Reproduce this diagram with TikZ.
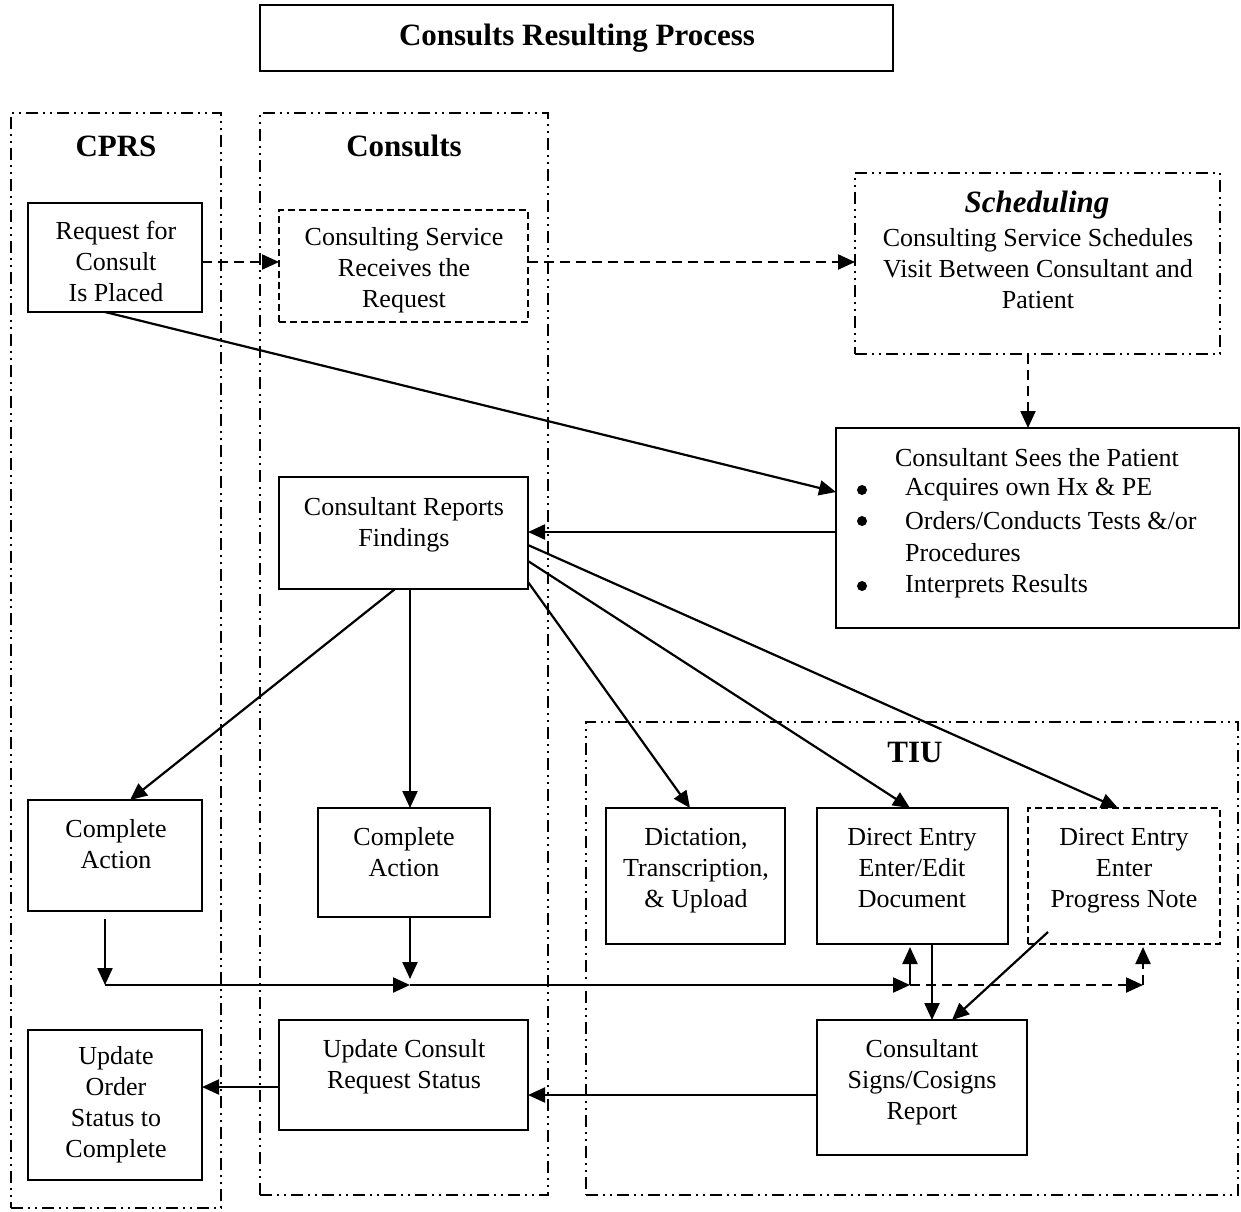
\documentclass[tikz,border=0pt]{standalone}
\usepackage{fontspec}
\setmainfont{Liberation Serif}
\usetikzlibrary{arrows.meta,calc}
\begin{document}
\begin{tikzpicture}[x=1pt,y=-1pt,
 box/.style={draw,line width=1.6pt,inner sep=0pt,outer sep=0pt,anchor=north west},
 dbox/.style={box,dash pattern=on 7pt off 4pt},
 lane/.style={draw,line width=1.5pt,inner sep=0pt,outer sep=0pt,anchor=north west,dash pattern=on 12pt off 5pt on 2pt off 5pt on 2pt off 5pt},
 txt/.style={align=center,font=\fontsize{26}{31}\selectfont,inner sep=0pt},
 head/.style={font=\fontsize{31}{36}\selectfont\bfseries,inner sep=0pt},
 bul/.style={circle,fill,inner sep=0pt,minimum size=10pt},
 arr/.style={line width=2.2pt,-{Triangle[length=17pt,width=15pt]}},
 dsh/.style={dash pattern=on 10pt off 6pt}
]
\useasboundingbox (0,0) rectangle (1241,1211);
\fill[white] (0,0) rectangle (1241,1211);

% title
\node[box,minimum width=633pt,minimum height=66pt] (title) at (260,5) {};
\node[head] (titlet) at (577,38) {Consults Resulting Process};

% lanes
\node[lane,minimum width=210pt,minimum height=1095pt] (cprs) at (11,113) {};
\node[lane,minimum width=288pt,minimum height=1082pt] (cons) at (260,113) {};
\node[lane,minimum width=652pt,minimum height=473pt] (tiu) at (586,722) {};
\node[head] (cprst) at (116,146) {CPRS};
\node[head] (const) at (404,146) {Consults};
\node[head] (tiut) at (915,752) {TIU};

% boxes
\node[box,minimum width=174pt,minimum height=109pt] (req) at (28,203) {};
\node[txt] (reqt) at (116,261) {Request for\\Consult\\Is Placed};

\node[dbox,minimum width=249pt,minimum height=112pt] (crs) at (279,210) {};
\node[txt] (crst) at (404,270) {Consulting Service\\Receives the\\Request};

\node[lane,minimum width=365pt,minimum height=181pt] (sched) at (855,173) {};
\node[head,font=\fontsize{31}{36}\selectfont\bfseries\itshape] (schedh) at (1037,205) {Scheduling};
\node[txt] (schedt) at (1038,269) {Consulting Service Schedules\\Visit Between Consultant and\\Patient};

\node[box,minimum width=403pt,minimum height=200pt] (sees) at (836,428) {};
\node[txt] (seesh) at (1037,458) {Consultant Sees the Patient};
\node[bul] (b1) at (862,490) {};
\node[bul] (b2) at (862,521) {};
\node[bul] (b3) at (862,586) {};
\node[txt,anchor=west] (s1) at (905,490) {Acquires own Hx \& PE};
\node[txt,anchor=west] (s2) at (905,521) {Orders/Conducts Tests \&/or};
\node[txt,anchor=west] (s3) at (905,553) {Procedures};
\node[txt,anchor=west] (s4) at (905,586) {Interprets Results};

\node[box,minimum width=249pt,minimum height=112pt] (rep) at (279,477) {};
\node[txt] (rept) at (404,525) {Consultant Reports\\Findings};

\node[box,minimum width=174pt,minimum height=111pt] (ca1) at (28,800) {};
\node[txt] (ca1t) at (116,844) {Complete\\Action};

\node[box,minimum width=172pt,minimum height=109pt] (ca2) at (318,808) {};
\node[txt] (ca2t) at (404,852) {Complete\\Action};

\node[box,minimum width=179pt,minimum height=136pt] (dict) at (606,808) {};
\node[txt] (dictt) at (696,871) {Dictation,\\Transcription,\\\& Upload};

\node[box,minimum width=191pt,minimum height=136pt] (edit) at (817,808) {};
\node[txt] (editt) at (912,868) {Direct Entry\\Enter/Edit\\Document};

\node[dbox,minimum width=192pt,minimum height=136pt] (pn) at (1028,808) {};
\node[txt] (pnt) at (1124,871) {Direct Entry\\Enter\\Progress Note};

\node[box,minimum width=210pt,minimum height=135pt] (signs) at (817,1020) {};
\node[txt] (signst) at (922,1082) {Consultant\\Signs/Cosigns\\Report};

\node[box,minimum width=249pt,minimum height=110pt] (uc) at (279,1020) {};
\node[txt] (uct) at (404,1067) {Update Consult\\Request Status};

\node[box,minimum width=174pt,minimum height=150pt] (uo) at (28,1030) {};
\node[txt] (uot) at (116,1105) {Update\\Order\\Status to\\Complete};

% helper coordinates
\coordinate (yA) at (0,262);
\coordinate (xS) at (1028,0);
\coordinate (yB) at (0,532);
\coordinate (xC) at (410,0);
\coordinate (xD) at (932,0);
\coordinate (jL) at (105,985);
\coordinate (jM) at (410,985);
\coordinate (jE) at (910,985);
\coordinate (jP) at (1143,985);
\coordinate (yE) at (0,1095);
\coordinate (yF) at (0,1087);

% connectors
\draw[arr,dsh] (req.east |- yA) -- (crs.west |- yA);
\draw[arr,dsh] (crs.east |- yA) -- (sched.west |- yA);
\draw[arr,dsh] (sched.south -| xS) -- (sees.north -| xS);
\draw[arr] ($(req.south west)+(77,0)$) -- ($(sees.north west)+(0,64)$);
\draw[arr] (sees.west |- yB) -- (rep.east |- yB);
\draw[arr] ($(rep.south west)+(116,0)$) -- ($(ca1.north west)+(102,0)$);
\draw[arr] (rep.south -| xC) -- (ca2.north -| xC);
\draw[arr] ($(rep.north east)+(0,105)$) -- ($(dict.north west)+(84,0)$);
\draw[arr] ($(rep.north east)+(0,84)$) -- ($(edit.north west)+(93,0)$);
\draw[arr] ($(rep.north east)+(0,68)$) -- ($(pn.north west)+(90,0)$);
\draw[arr] ($(ca1.south west)+(77,8)$) -- (jL);
\draw[arr] (ca2.south -| jM) -- ($(jM)+(0,-6)$);
\draw[arr] (jL) -- (jM);
\draw[arr] (jM) -- (jE);
\draw[arr,shorten >=3pt] (jE) -- (edit.south -| jE);
\draw[arr,dsh] (jE) -- (jP);
\draw[arr,dsh,shorten >=3pt] (jP) -- (pn.south -| jP);
\draw[arr] (edit.south -| xD) -- (signs.north -| xD);
\draw[arr] ($(pn.south west)+(20,-12)$) -- ($(signs.north west)+(135,0)$);
\draw[arr] (signs.west |- yE) -- (uc.east |- yE);
\draw[arr] (uc.west |- yF) -- (uo.east |- yF);
\end{tikzpicture}
\end{document}
